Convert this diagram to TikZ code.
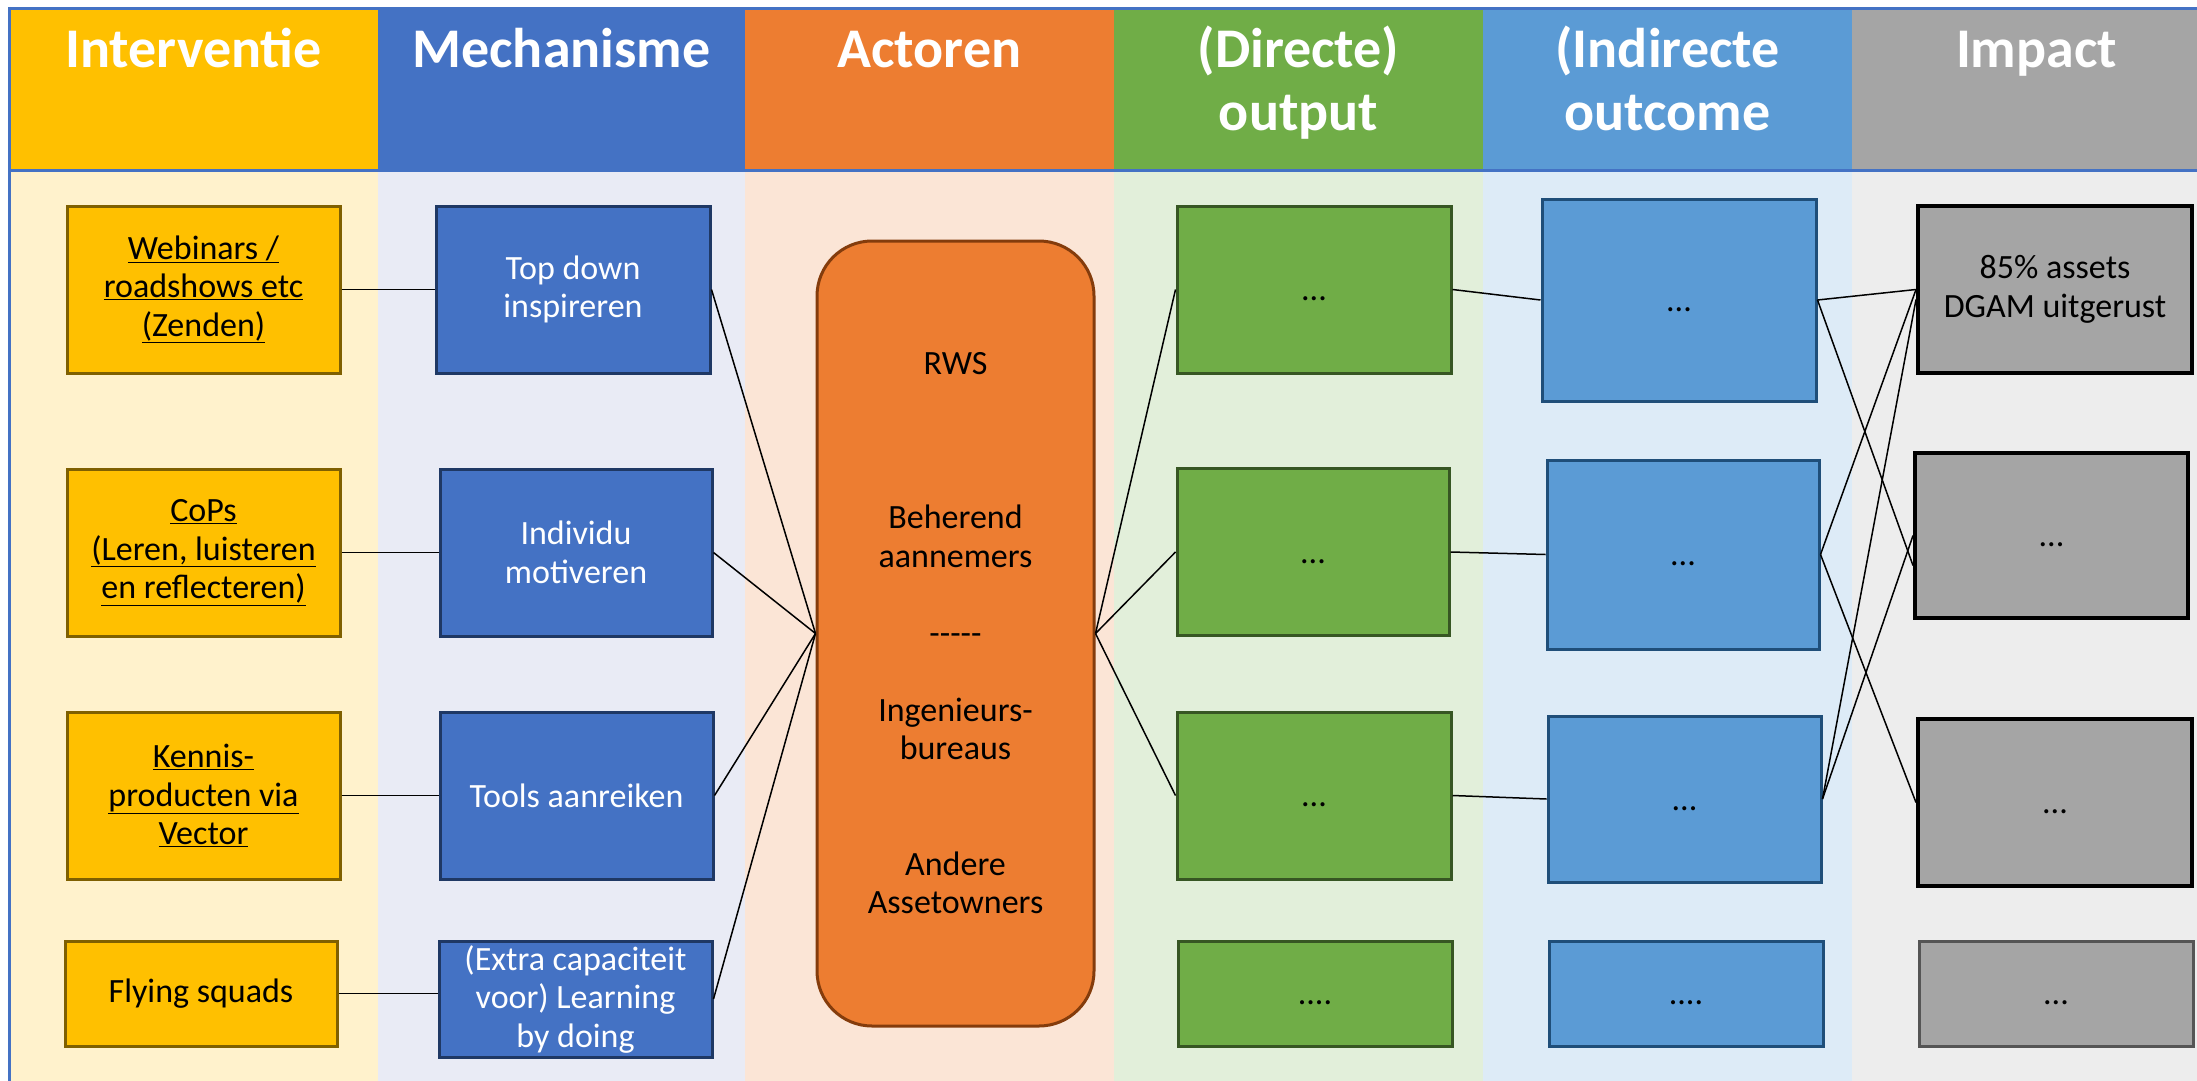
\documentclass[tikz,border=0pt]{standalone}
\usepackage{fontspec}
\setmainfont{Carlito}
\usetikzlibrary{calc}
\definecolor{frameblue}{HTML}{4472C4}
\definecolor{c1h}{HTML}{FFC000}\definecolor{c1b}{HTML}{FFF2CC}\definecolor{c1d}{HTML}{7F6000}
\definecolor{c2h}{HTML}{4472C4}\definecolor{c2b}{HTML}{E9EBF5}\definecolor{c2d}{HTML}{1F3864}
\definecolor{c3h}{HTML}{ED7D31}\definecolor{c3b}{HTML}{FBE5D6}\definecolor{c3d}{HTML}{843C0C}
\definecolor{c4h}{HTML}{70AD47}\definecolor{c4b}{HTML}{E2EFDA}\definecolor{c4d}{HTML}{375623}
\definecolor{c5h}{HTML}{5B9BD5}\definecolor{c5b}{HTML}{DDEBF7}\definecolor{c5d}{HTML}{1F4E79}
\definecolor{c6h}{HTML}{A5A5A5}\definecolor{c6b}{HTML}{EDEDED}\definecolor{c6d}{HTML}{000000}
\definecolor{c6e}{HTML}{555555}
\begin{document}
\begin{tikzpicture}[x=1pt,y=-1pt,
  hdr/.style={anchor=base, text=white, inner sep=0pt,
    font=\fontsize{56pt}{63pt}\selectfont\bfseries},
  cbox/.style={draw, line width=3pt, align=center, inner sep=4pt,
    minimum width=273pt, minimum height=167pt,
    font=\fontsize{34pt}{38.5pt}\selectfont},
  ibox/.style={cbox, fill=c1h, draw=c1d, text=black},
  mbox/.style={cbox, fill=c2h, draw=c2d, text=white},
  obox/.style={cbox, fill=c4h, draw=c4d, text=black},
  ubox/.style={cbox, fill=c5h, draw=c5d, text=black},
  pbox/.style={cbox, fill=c6h, draw=c6d, line width=4pt, text=black},
  dots/.style={text height=22pt, text depth=0pt},
  conn/.style={draw=black, line width=1.5pt},
  hline/.style={draw=frameblue, line width=3pt}
]
\useasboundingbox (0,0) rectangle (2197,1081);
\fill[white] (0,0) rectangle (2197,1081);
% column backgrounds
\fill[c1h] (9,8) rectangle (378,170);   \fill[c1b] (9,170) rectangle (378,1081);
\fill[c2h] (378,8) rectangle (745,170); \fill[c2b] (378,170) rectangle (745,1081);
\fill[c3h] (745,8) rectangle (1114,170);\fill[c3b] (745,170) rectangle (1114,1081);
\fill[c4h] (1114,8) rectangle (1483,170);\fill[c4b] (1114,170) rectangle (1483,1081);
\fill[c5h] (1483,8) rectangle (1852,170);\fill[c5b] (1483,170) rectangle (1852,1081);
\fill[c6h] (1852,8) rectangle (2197,170);\fill[c6b] (1852,170) rectangle (2197,1081);
% frame lines
\draw[hline] (8,8.5) -- (2197,8.5);
\draw[hline] (8,170.5) -- (2197,170.5);
\draw[hline] (9.5,7) -- (9.5,1081);
% headers
\node[hdr] (h1) at (193.5,67) {Interventie};
\node[hdr] (h2) at (561.5,67) {Mechanisme};
\node[hdr] (h3) at (929.5,67) {Actoren};
\node[hdr] (h4) at (1298.5,67) {\begin{tabular}[t]{@{}c@{}}(Directe)\\output\end{tabular}};
\node[hdr] (h5) at (1667.5,67) {\begin{tabular}[t]{@{}c@{}}(Indirecte\\outcome\end{tabular}};
\node[hdr] (h6) at (2036.5,67) {Impact};
% Interventie
\node[ibox] (i1) at (203.5,289.5) {\underline{Webinars /}\\\underline{roadshows etc}\\\underline{(Zenden)}};
\node[ibox] (i2) at (203.5,552.5) {\underline{CoPs}\\\underline{(Leren, luisteren}\\\underline{en reflecteren)}};
\node[ibox] (i3) at (203.5,795.5) {\underline{Kennis-}\\\underline{producten via}\\\underline{Vector}};
\node[ibox, minimum width=272pt, minimum height=105pt] (i4) at (201,993.5) {Flying squads};
% Mechanisme
\node[mbox, minimum width=274pt] (m1) at (573,289.5) {Top down\\inspireren};
\node[mbox, minimum width=272pt] (m2) at (576,552.5) {Individu\\motiveren};
\node[mbox] (m3) at (576.5,795.5) {Tools aanreiken};
\node[mbox, minimum width=273pt, minimum height=116pt] (m4) at (575.5,999) {(Extra capaciteit\\voor) Learning\\by doing};
% Actoren
\node[draw=c3d, fill=c3h, line width=3pt, rounded corners=55pt,
  minimum width=277pt, minimum height=785pt, align=center,
  font=\fontsize{34pt}{38.5pt}\selectfont] (act) at (955.5,633.5)
  {RWS\\[115.5pt]Beherend\\aannemers\\[38.5pt]\mbox{-}\mbox{-}\mbox{-}\mbox{-}\mbox{-}\\[38.5pt]Ingenieurs-\\bureaus\\[77pt]Andere\\Assetowners};
% Output
\node[obox, dots, minimum width=274pt] (o1) at (1314,289.5) {...};
\node[obox, dots, minimum width=272pt] (o2) at (1313,552) {...};
\node[obox, dots, minimum width=274pt] (o3) at (1314,795.5) {...};
\node[obox, dots, minimum width=274pt, minimum height=105pt] (o4) at (1315,993.5) {....};
% Outcome
\node[ubox, dots, minimum width=274pt, minimum height=202pt] (u1) at (1679,300) {...};
\node[ubox, dots, minimum width=272pt, minimum height=189pt] (u2) at (1683,554.5) {...};
\node[ubox, dots, minimum width=273pt, minimum height=166pt] (u3) at (1684.5,799) {...};
\node[ubox, dots, minimum width=274pt, minimum height=105pt] (u4) at (1686,993.5) {....};
% Impact
\node[pbox, minimum width=274pt] (p1) at (2055,289.5) {85\% assets\\DGAM uitgerust};
\node[pbox, dots, minimum width=273pt, minimum height=165pt] (p2) at (2051.5,535.5) {...};
\node[pbox, dots, minimum width=274pt] (p3) at (2055,802.5) {...};
\node[pbox, dots, draw=c6e, line width=3pt, minimum width=274pt, minimum height=105pt] (p4) at (2056,993.5) {...};
% connectors
\foreach \k in {1,2,3} {\draw[conn] (i\k.east) -- (m\k.west);}
\draw[conn] (i4.east) -- (i4.east -| m4.west);
\foreach \k in {1,2,3,4} {\draw[conn] (m\k.east) -- (act.west);}
\foreach \k in {1,2,3} {\draw[conn] (act.east) -- (o\k.west);}
\foreach \k in {1,2,3} {\draw[conn] (o\k.east) -- (u\k.west);}
\draw[conn] (u1.east) -- (p1.west);
\draw[conn] (u1.east) -- ([yshift=-30pt]p2.west);
\draw[conn] (u2.east) -- (p1.west);
\draw[conn] (u2.east) -- (p3.west);
\draw[conn] (u3.east) -- (p2.west);
\draw[conn] (u3.east) -- ([yshift=-10pt]p1.west);
\end{tikzpicture}
\end{document}
